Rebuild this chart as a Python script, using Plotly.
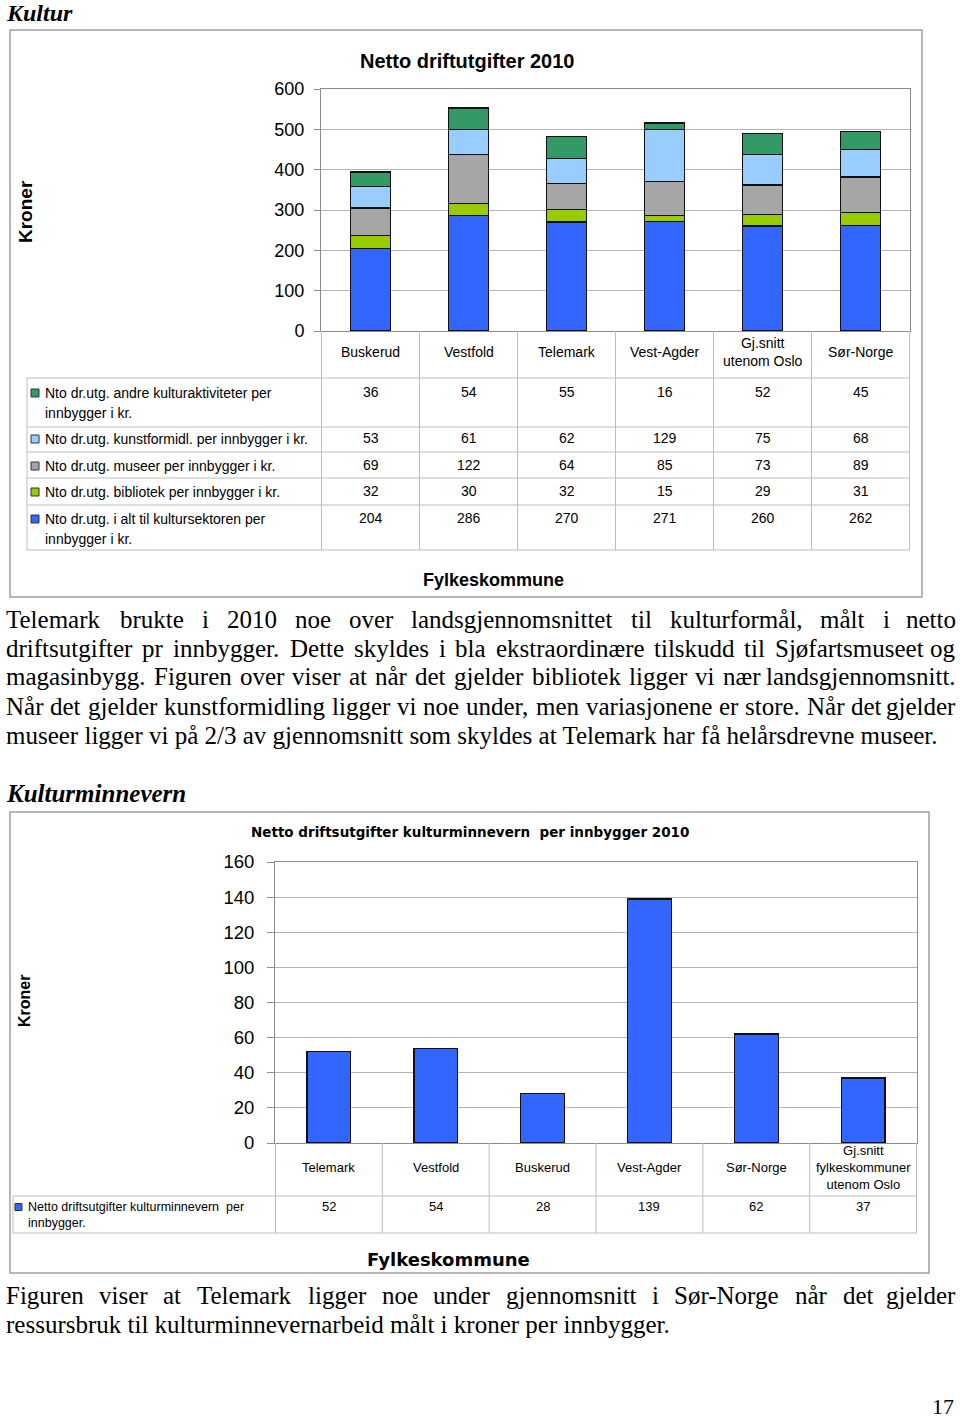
import plotly.graph_objects as go

W, H = 960, 1420


def xp(px):
    return px / W


def yp(py):
    return 1 - py / H


# ---------------- DATA ----------------
categories_1 = ["Buskerud", "Vestfold", "Telemark", "Vest-Agder", "Gj.snitt<br>utenom Oslo", "Sør-Norge"]
andre_kultur = [36, 54, 55, 16, 52, 45]
kunstformidl = [53, 61, 62, 129, 75, 68]
museer = [69, 122, 64, 85, 73, 89]
bibliotek = [32, 30, 32, 15, 29, 31]
i_alt = [204, 286, 270, 271, 260, 262]
y_ticks_1 = [0, 100, 200, 300, 400, 500, 600]

name_andre = ["Nto dr.utg. andre kulturaktiviteter per", "innbygger i kr."]
name_kunst = ["Nto dr.utg. kunstformidl. per innbygger i kr."]
name_museer = ["Nto dr.utg. museer per innbygger i kr."]
name_bibl = ["Nto dr.utg. bibliotek per innbygger i kr."]
name_ialt = ["Nto dr.utg. i alt til kultursektoren per", "innbygger i kr."]

categories_2 = ["Telemark", "Vestfold", "Buskerud", "Vest-Agder", "Sør-Norge",
                "Gj.snitt<br>fylkeskommuner<br>utenom Oslo"]
kulturminnevern = [52, 54, 28, 139, 62, 37]
y_ticks_2 = [0, 20, 40, 60, 80, 100, 120, 140, 160]
name_km = ["Netto driftsutgifter kulturminnevern  per", "innbygger."]

para_1 = [
    ("Telemark brukte i 2010 noe over landsgjennomsnittet til kulturformål, målt i netto", True),
    ("driftsutgifter pr innbygger. Dette skyldes i bla ekstraordinære tilskudd til Sjøfartsmuseet og", True),
    ("magasinbygg. Figuren over viser at når det gjelder bibliotek ligger vi nær landsgjennomsnitt.", True),
    ("Når det gjelder kunstformidling ligger vi noe under, men variasjonene er store. Når det gjelder", True),
    ("museer ligger vi på 2/3 av gjennomsnitt som skyldes at Telemark har få helårsdrevne museer.", False),
]
para_2 = [
    ("Figuren viser at Telemark ligger noe under gjennomsnitt i Sør-Norge når det gjelder", True),
    ("ressursbruk til kulturminnevernarbeid målt i kroner per innbygger.", False),
]

# ---------------- STYLE ----------------
C_BLUE = "#3366FF"
C_LIME = "#99CC00"
C_GREY = "#A6A6A6"
C_LBLUE = "#99CCFF"
C_GREEN = "#339966"
GRID = "#b4b4b4"
AXL = "#8c8c8c"
TBL = "#bdbdbd"
SANS = "Arial, Liberation Sans, sans-serif"
WIDE = "DejaVu Sans, Verdana, sans-serif"
SERIF = "Liberation Serif, Times New Roman, serif"

fig = go.Figure()

stack = [
    (i_alt, C_BLUE, name_ialt),
    (bibliotek, C_LIME, name_bibl),
    (museer, C_GREY, name_museer),
    (kunstformidl, C_LBLUE, name_kunst),
    (andre_kultur, C_GREEN, name_andre),
]
for vals, col, nm in stack:
    fig.add_trace(go.Bar(x=categories_1, y=vals, name=" ".join(nm), xaxis="x", yaxis="y",
                         marker=dict(color=col, line=dict(color="#111111", width=1.3))))

fig.add_trace(go.Bar(x=categories_2, y=kulturminnevern, name=" ".join(name_km), xaxis="x2", yaxis="y2",
                     marker=dict(color=C_BLUE, line=dict(color="#111111", width=1.3))))

# plot-area pixel geometry
P1 = dict(l=321, r=910, t=89, b=331)
P2 = dict(l=275, r=917, t=862, b=1143)

fig.update_layout(
    width=W, height=H, autosize=False,
    margin=dict(l=0, r=0, t=0, b=0, autoexpand=False),
    paper_bgcolor="white", plot_bgcolor="white",
    barmode="stack", bargap=0.59, showlegend=False,
    xaxis=dict(domain=[xp(P1["l"]), xp(P1["r"])], anchor="y", showticklabels=False,
               showline=True, linecolor=AXL, linewidth=1, mirror=True, ticks="", showgrid=False),
    yaxis=dict(domain=[yp(P1["b"]), yp(P1["t"])], anchor="x", range=[0, 600], tickvals=y_ticks_1,
               ticks="outside", ticklen=6, tickcolor=AXL, showline=True, linecolor=AXL, mirror=True,
               gridcolor=GRID, gridwidth=1, zeroline=False, ticklabelstandoff=6,
               tickfont=dict(family=SANS, size=18, color="black")),
    xaxis2=dict(domain=[xp(P2["l"]), xp(P2["r"])], anchor="y2", showticklabels=False,
                showline=True, linecolor=AXL, linewidth=1, mirror=True, ticks="", showgrid=False),
    yaxis2=dict(domain=[yp(P2["b"]), yp(P2["t"])], anchor="x2", range=[0, 160], tickvals=y_ticks_2,
                ticks="outside", ticklen=7, tickcolor=AXL, showline=True, linecolor=AXL, mirror=True,
                gridcolor=GRID, gridwidth=1, zeroline=False, ticklabelstandoff=9,
                tickfont=dict(family=SANS, size=18.5, color="black")),
)

shapes = []
ann = []


def hline(y, x0, x1, color=TBL, w=1):
    shapes.append(dict(type="line", xref="paper", yref="paper", x0=xp(x0), x1=xp(x1),
                       y0=yp(y), y1=yp(y), line=dict(color=color, width=w)))


def vline_cat(xref, pos, y0, y1, color=TBL, w=1):
    shapes.append(dict(type="line", xref=xref, yref="paper", x0=pos, x1=pos,
                       y0=yp(y0), y1=yp(y1), line=dict(color=color, width=w)))


def vline_px(x, y0, y1, color=TBL, w=1):
    shapes.append(dict(type="line", xref="paper", yref="paper", x0=xp(x), x1=xp(x),
                       y0=yp(y0), y1=yp(y1), line=dict(color=color, width=w)))


def text(x, y, s, size, family=SANS, bold=False, italic=False, xanchor="center", xref="paper",
         angle=0, color="black"):
    if bold:
        s = "<b>" + s + "</b>"
    if italic:
        s = "<i>" + s + "</i>"
    ann.append(dict(x=(xp(x) if xref == "paper" else x), y=yp(y), xref=xref, yref="paper", text=s,
                    showarrow=False, xanchor=xanchor, yanchor="middle", textangle=angle,
                    borderpad=0, font=dict(family=family, size=size, color=color)))


def square(x, y, col, s=8):
    shapes.append(dict(type="rect", xref="paper", yref="paper", x0=xp(x), x1=xp(x + s),
                       y0=yp(y + s / 2), y1=yp(y - s / 2), fillcolor=col,
                       line=dict(color="#333333", width=1)))


# ---------- outer frames ----------
shapes.append(dict(type="rect", xref="paper", yref="paper", x0=xp(10), x1=xp(922), y0=yp(597), y1=yp(30),
                   line=dict(color="#a0a0a0", width=1.5)))
shapes.append(dict(type="rect", xref="paper", yref="paper", x0=xp(10), x1=xp(929), y0=yp(1273), y1=yp(812),
                   line=dict(color="#a0a0a0", width=1.5)))

# ---------- chart 1 texts ----------
text(5, 13, "Kultur", 24, SERIF, bold=True, italic=True, xanchor="left")
text(467, 61, "Netto driftutgifter 2010", 20, bold=True)
text(25, 212, "Kroner", 19, bold=True, angle=-90)
text(494, 580, "Fylkeskommune", 18, bold=True)

# chart 1 data table
T1_left = 27
row_lines_1 = [378, 427, 452, 478, 505, 550]
for y in row_lines_1:
    hline(y, T1_left, P1["r"])
vline_px(T1_left, 378, 550)
for k in range(len(categories_1) + 1):
    vline_cat("x", k - 0.5, P1["b"], 550)
for c in categories_1:
    text(c, 352, c, 14, xref="x")

rows_1 = [
    (andre_kultur, C_GREEN, name_andre, 392),
    (kunstformidl, C_LBLUE, name_kunst, 438),
    (museer, C_GREY, name_museer, 465),
    (bibliotek, C_LIME, name_bibl, 491),
    (i_alt, C_BLUE, name_ialt, 518),
]
for vals, col, nm, y in rows_1:
    square(31, y + 1, col)
    for j, line in enumerate(nm):
        text(44, y + 1 + j * 20, line, 14, xanchor="left")
    for c, v in zip(categories_1, vals):
        text(c, y, str(v), 14, xref="x")

# ---------- chart 2 texts ----------
text(5, 793, "Kulturminnevern", 25, SERIF, bold=True, italic=True, xanchor="left")
text(470, 832, "Netto driftsutgifter kulturminnevern  per innbygger 2010", 13.5, WIDE, bold=True)
text(25, 1001, "Kroner", 16, bold=True, angle=-90)
text(448, 1259, "Fylkeskommune", 18, WIDE, bold=True)

T2_left = 13
hline(1196, T2_left, P2["r"])
hline(1233, T2_left, P2["r"])
vline_px(T2_left, 1196, 1233)
for k in range(len(categories_2) + 1):
    vline_cat("x2", k - 0.5, P2["b"], 1233)
for c in categories_2:
    text(c, 1167, c, 13, xref="x2")
square(15, 1207, C_BLUE, 7)
for j, line in enumerate(name_km):
    text(27, 1207 + j * 16, line, 12.5, xanchor="left")
for c, v in zip(categories_2, kulturminnevern):
    text(c, 1206, str(v), 13, xref="x2")

# ---------- body text (justified) ----------
TW = {
    'a': 444, 'b': 500, 'c': 444, 'd': 500, 'e': 444, 'f': 333, 'g': 500, 'h': 500, 'i': 278, 'j': 278,
    'k': 500, 'l': 278, 'm': 778, 'n': 500, 'o': 500, 'p': 500, 'q': 500, 'r': 333, 's': 389, 't': 278,
    'u': 500, 'v': 500, 'w': 722, 'x': 500, 'y': 500, 'z': 444, 'å': 444, 'ø': 500, 'æ': 667,
    'T': 611, 'D': 722, 'F': 556, 'N': 722, 'S': 556, 'M': 889, 'K': 722, 'G': 722, 'O': 722, 'A': 722,
    'Ø': 722, ',': 250, '.': 250, '/': 278, '-': 333, ' ': 250,
}


def tw(s, size):
    return sum(TW.get(ch, 500) for ch in s) / 1000 * size


def body_line(line, y, just, size=25, left=5, right=957):
    if not just:
        text(left, y, line, size, SERIF, xanchor="left")
        return
    words = line.split(" ")
    widths = [tw(w, size) for w in words]
    gap = (right - left - sum(widths)) / (len(words) - 1)
    x = left
    for i, (w, ww) in enumerate(zip(words, widths)):
        if i == len(words) - 1:
            text(right, y, w, size, SERIF, xanchor="right")
        else:
            text(x, y, w, size, SERIF, xanchor="left")
        x += ww + gap


for i, (line, j) in enumerate(para_1):
    body_line(line, 619 + i * 29, j)
for i, (line, j) in enumerate(para_2):
    body_line(line, 1295 + i * 29, j)

text(955, 1406, "17", 22, SERIF, xanchor="right")

fig.update_layout(shapes=shapes, annotations=ann)
post = (
    "document.documentElement.style.margin='0';"
    "document.body.style.margin='0';document.body.style.overflow='hidden';"
    "var gd=document.getElementById('{plot_id}');"
    "gd.style.position='fixed';gd.style.top='0px';gd.style.left='0px';"
)
fig.write_html("out.html", post_script=post, config={"displayModeBar": False})
